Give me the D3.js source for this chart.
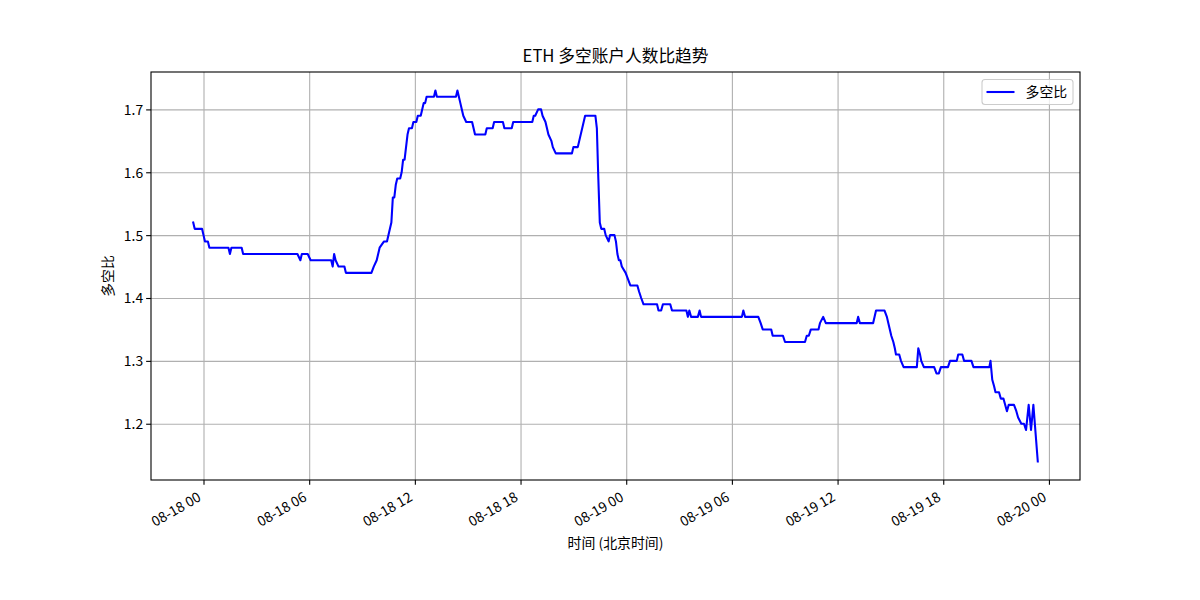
<!DOCTYPE html>
<html><head><meta charset="utf-8">
<script src="https://cdn.jsdelivr.net/npm/d3@7"></script>
<style>
body{margin:0;background:#fff}
text{font-family:"Noto Sans CJK SC","Noto Sans",sans-serif;fill:#000}
</style>
</head><body><svg id="c" width="1200" height="600"></svg>
<script>
// ---- data ----
const times = [
"08-17 23:25","08-17 23:30","08-17 23:55","08-18 00:00","08-18 00:05","08-18 00:15","08-18 00:20","08-18 01:25","08-18 01:30","08-18 01:35",
"08-18 02:10","08-18 02:15","08-18 05:20","08-18 05:30","08-18 05:35","08-18 05:55","08-18 06:05","08-18 07:15","08-18 07:20","08-18 07:25",
"08-18 07:30","08-18 07:40","08-18 08:00","08-18 08:05","08-18 09:32","08-18 09:40","08-18 09:50","08-18 09:55","08-18 10:00","08-18 10:15",
"08-18 10:25","08-18 10:35","08-18 10:40","08-18 10:45","08-18 10:50","08-18 10:55","08-18 11:00","08-18 11:10","08-18 11:15","08-18 11:20",
"08-18 11:25","08-18 11:30","08-18 11:35","08-18 11:40","08-18 11:50","08-18 11:55","08-18 12:05","08-18 12:10","08-18 12:20","08-18 12:25",
"08-18 12:30","08-18 12:35","08-18 12:40","08-18 13:05","08-18 13:10","08-18 13:15","08-18 14:20","08-18 14:25","08-18 14:30","08-18 14:35",
"08-18 14:40","08-18 14:45","08-18 14:55","08-18 15:15","08-18 15:20","08-18 15:25","08-18 16:00","08-18 16:05","08-18 16:25","08-18 16:30",
"08-18 17:00","08-18 17:05","08-18 17:30","08-18 17:35","08-18 18:40","08-18 18:45","08-18 18:50","08-18 19:00","08-18 19:10","08-18 19:15",
"08-18 19:25","08-18 19:30","08-18 19:35","08-18 19:45","08-18 19:50","08-18 20:00","08-18 20:55","08-18 21:00","08-18 21:15","08-18 21:40",
"08-18 22:15","08-18 22:20","08-18 22:25","08-18 22:30","08-18 22:35","08-18 22:45","08-18 22:50","08-18 23:00","08-18 23:05","08-18 23:20",
"08-18 23:25","08-18 23:30","08-18 23:35","08-18 23:40","08-18 23:45","08-18 23:58","08-19 00:06","08-19 00:14","08-19 00:38","08-19 00:44",
"08-19 00:51","08-19 00:59","08-19 01:45","08-19 01:50","08-19 01:59","08-19 02:05","08-19 02:30","08-19 02:36","08-19 03:25","08-19 03:30",
"08-19 03:35","08-19 03:41","08-19 04:04","08-19 04:10","08-19 04:15","08-19 06:34","08-19 06:39","08-19 06:45","08-19 07:30","08-19 07:38",
"08-19 07:45","08-19 08:14","08-19 08:19","08-19 08:54","08-19 09:01","08-19 10:09","08-19 10:15","08-19 10:22","08-19 10:29","08-19 10:55",
"08-19 11:00","08-19 11:11","08-19 11:20","08-19 13:05","08-19 13:10","08-19 13:16","08-19 14:01","08-19 14:11","08-19 14:40","08-19 14:48",
"08-19 14:53","08-19 15:03","08-19 15:10","08-19 15:15","08-19 15:19","08-19 15:30","08-19 15:36","08-19 15:45","08-19 16:30","08-19 16:35",
"08-19 16:41","08-19 16:45","08-19 16:54","08-19 17:29","08-19 17:37","08-19 17:45","08-19 17:52","08-19 18:16","08-19 18:23","08-19 18:46",
"08-19 18:51","08-19 19:05","08-19 19:11","08-19 19:36","08-19 19:43","08-19 20:37","08-19 20:41","08-19 20:47","08-19 20:53","08-19 20:58",
"08-19 21:10","08-19 21:16","08-19 21:25","08-19 21:37","08-19 21:43","08-19 22:01","08-19 22:09","08-19 22:15","08-19 22:26","08-19 22:35",
"08-19 22:42","08-19 22:51","08-19 22:59","08-19 23:07","08-19 23:22"
];
const ratios = [
1.52,1.51,1.51,1.50,1.49,1.49,1.48,1.48,1.47,1.48,
1.48,1.47,1.47,1.46,1.47,1.47,1.46,1.46,1.45,1.47,
1.46,1.45,1.45,1.44,1.44,1.45,1.46,1.47,1.48,1.49,
1.49,1.51,1.52,1.56,1.56,1.58,1.59,1.59,1.60,1.62,
1.62,1.64,1.66,1.67,1.67,1.68,1.68,1.69,1.69,1.70,
1.71,1.71,1.72,1.72,1.73,1.72,1.72,1.73,1.72,1.71,
1.70,1.69,1.68,1.68,1.67,1.66,1.66,1.67,1.67,1.68,
1.68,1.67,1.67,1.68,1.68,1.69,1.69,1.70,1.70,1.69,
1.68,1.67,1.66,1.65,1.64,1.63,1.63,1.64,1.64,1.69,
1.69,1.67,1.59,1.52,1.51,1.51,1.50,1.49,1.50,1.50,
1.49,1.47,1.46,1.46,1.45,1.44,1.43,1.42,1.42,1.41,
1.40,1.39,1.39,1.38,1.38,1.39,1.39,1.38,1.38,1.37,
1.38,1.37,1.37,1.38,1.37,1.37,1.38,1.37,1.37,1.36,
1.35,1.35,1.34,1.34,1.33,1.33,1.34,1.34,1.35,1.35,
1.36,1.37,1.36,1.36,1.37,1.36,1.36,1.38,1.38,1.37,
1.36,1.34,1.33,1.32,1.31,1.31,1.30,1.29,1.29,1.32,
1.31,1.30,1.29,1.29,1.28,1.28,1.29,1.29,1.30,1.30,
1.31,1.31,1.30,1.30,1.29,1.29,1.30,1.27,1.26,1.25,
1.25,1.24,1.24,1.22,1.23,1.23,1.22,1.21,1.20,1.20,
1.19,1.23,1.19,1.23,1.14
];
const yTicks = [1.2, 1.3, 1.4, 1.5, 1.6, 1.7];
const titleText = "ETH 多空账户人数比趋势";
const xLabelText = "时间 (北京时间)";
const yLabelText = "多空比";
const seriesName = "多空比";

// ---- drawing ----
const m = {left: 151, right: 1080, top: 72, bottom: 480};
const parse = d3.timeParse("%Y-%m-%d %H:%M");
const data = times.map((t, i) => ({t: parse("2025-" + t), v: ratios[i]}));

const tExt = d3.extent(data, d => d.t);
const tPad = (tExt[1] - tExt[0]) * 0.05;
const x = d3.scaleTime()
  .domain([new Date(+tExt[0] - tPad), new Date(+tExt[1] + tPad)])
  .range([m.left, m.right]);
const vExt = d3.extent(data, d => d.v);
const vPad = (vExt[1] - vExt[0]) * 0.05;
const y = d3.scaleLinear()
  .domain([vExt[0] - vPad, vExt[1] + vPad])
  .range([m.bottom, m.top]);

const svg = d3.select("#c");
const fs = 13.9;
const gridW = 1.1, spineW = 1.1, lineW = 2.08, tickLen = 4.86;

// grid
const xTickVals = d3.timeHour.every(6).range(x.domain()[0], x.domain()[1]);
svg.append("g").attr("transform", `translate(0,${m.bottom})`)
  .call(d3.axisBottom(x).tickValues(xTickVals).tickSize(-(m.bottom - m.top)).tickFormat(""))
  .call(g => g.select(".domain").remove())
  .call(g => g.selectAll("line").attr("stroke", "#b0b0b0").attr("stroke-width", gridW));
svg.append("g").attr("transform", `translate(${m.left},0)`)
  .call(d3.axisLeft(y).tickValues(yTicks).tickSize(-(m.right - m.left)).tickFormat(""))
  .call(g => g.select(".domain").remove())
  .call(g => g.selectAll("line").attr("stroke", "#b0b0b0").attr("stroke-width", gridW));

// line
svg.append("path").datum(data)
  .attr("fill", "none").attr("stroke", "#0000ff").attr("stroke-width", lineW)
  .attr("stroke-linejoin", "round").attr("stroke-linecap", "square")
  .attr("d", d3.line().x(d => x(d.t)).y(d => y(d.v)));

// axes
const xa = svg.append("g").attr("transform", `translate(0,${m.bottom})`)
  .call(d3.axisBottom(x).tickValues(xTickVals).tickSize(tickLen).tickPadding(0)
    .tickFormat(d3.timeFormat("%m-%d %H")));
xa.select(".domain").remove();
xa.selectAll("line").attr("stroke", "#000").attr("stroke-width", spineW);
xa.selectAll("text")
  .attr("font-size", fs).attr("font-family", null)
  .attr("text-anchor", "end").attr("dy", null).attr("y", null)
  .attr("transform", "translate(-2,20) rotate(-30)");

const ya = svg.append("g").attr("transform", `translate(${m.left},0)`)
  .call(d3.axisLeft(y).tickValues(yTicks).tickSize(tickLen).tickPadding(3)
    .tickFormat(d3.format(".1f")));
ya.select(".domain").remove();
ya.selectAll("line").attr("stroke", "#000").attr("stroke-width", spineW);
ya.selectAll("text").attr("font-size", fs).attr("font-family", null).attr("dy", "0.35em");

// spines
svg.append("rect").attr("x", m.left).attr("y", m.top)
  .attr("width", m.right - m.left).attr("height", m.bottom - m.top)
  .attr("fill", "none").attr("stroke", "#000").attr("stroke-width", spineW);

// title & labels
svg.append("text").attr("x", (m.left + m.right) / 2).attr("y", 62)
  .attr("text-anchor", "middle").attr("font-size", 16.7).text(titleText);
svg.append("text").attr("x", (m.left + m.right) / 2).attr("y", 548)
  .attr("text-anchor", "middle").attr("font-size", fs).text(xLabelText);
svg.append("text").attr("transform", `translate(113,${(m.top + m.bottom) / 2}) rotate(-90)`)
  .attr("text-anchor", "middle").attr("font-size", fs).text(yLabelText);

// legend
const lg = svg.append("g");
lg.append("rect").attr("x", 982).attr("y", 79.5).attr("width", 91).attr("height", 25)
  .attr("rx", 3).attr("fill", "#fff").attr("fill-opacity", 0.8)
  .attr("stroke", "#cccccc").attr("stroke-width", 1.1);
lg.append("line").attr("x1", 986.5).attr("x2", 1014.5).attr("y1", 92).attr("y2", 92)
  .attr("stroke", "#0000ff").attr("stroke-width", lineW);
lg.append("text").attr("x", 1025.5).attr("y", 92).attr("dy", "0.35em")
  .attr("font-size", fs).text(seriesName);
</script>
</body></html>
